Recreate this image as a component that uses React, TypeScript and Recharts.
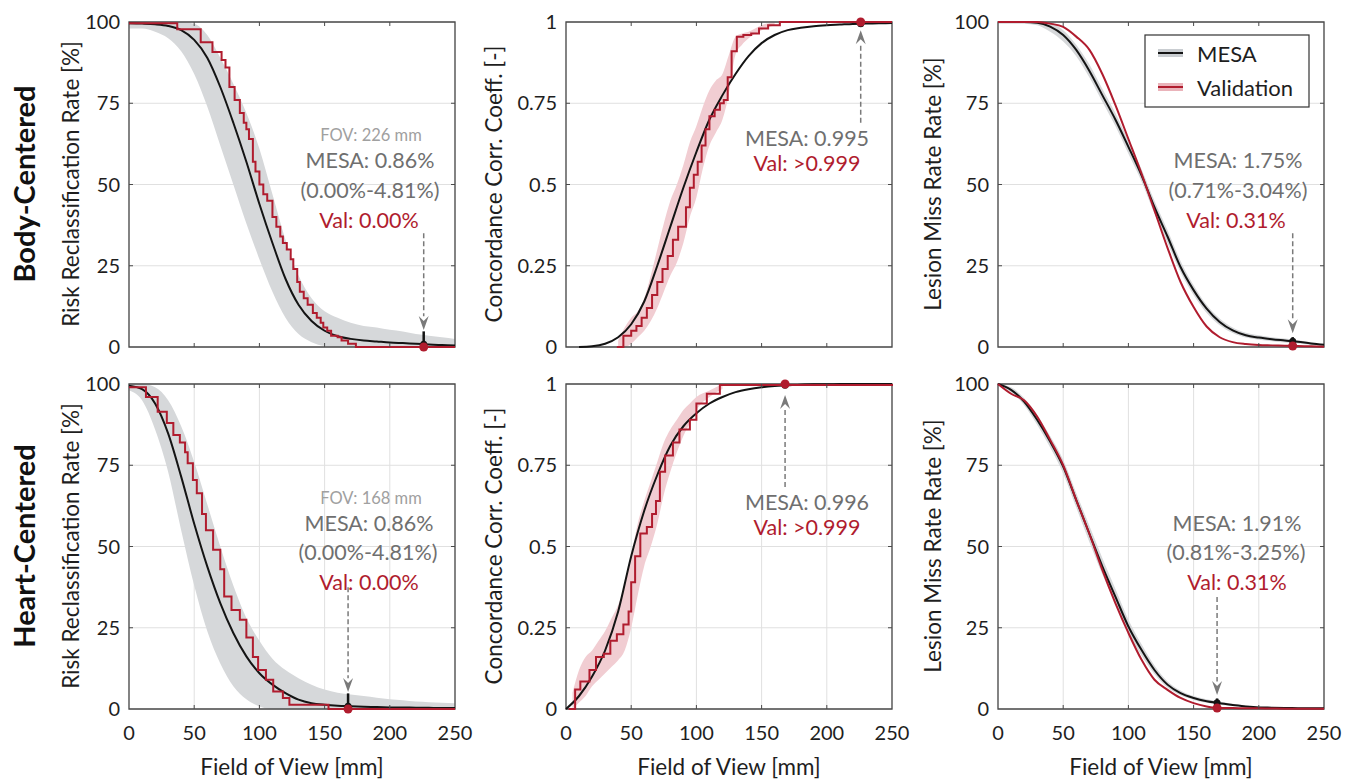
import React from 'react';
import {
  ComposedChart, Line, Area, XAxis, YAxis, CartesianGrid,
  ReferenceLine, ReferenceDot, ReferenceArea,
} from 'recharts';

// ---------- shared axes ----------
const FOV = [0, 10, 20, 30, 40, 50, 60, 70, 80, 90, 100, 110, 120, 130, 140, 150, 160, 170, 180, 190, 200, 210, 220, 230, 240, 250];
const X_TICKS = [0, 50, 100, 150, 200, 250];
const PCT_TICKS = [0, 25, 50, 75, 100];
const CCC_TICKS = [0, 0.25, 0.5, 0.75, 1];

// ---------- Panel 1: Body-centered, risk reclassification ----------
const P1_MESA = [99.6, 99.5, 99.3, 98.8, 97.5, 94.5, 89, 80, 69, 57, 44, 32, 21, 13, 8, 5, 3.3, 2.5, 2, 1.7, 1.4, 1.2, 1.0, 0.8, 0.6, 0.5];
const P1_LO = [98, 98, 97, 95, 91, 84, 74, 62, 50, 38, 27, 17, 9, 4, 1.5, 0.3, 0, 0, 0, 0, 0, 0, 0, 0, 0, 0];
const P1_HI = [100, 100, 100, 100, 100, 99.5, 96, 89, 81, 72, 61, 47, 33, 22, 15, 11, 9, 7.5, 6.5, 6, 5.3, 4.8, 4, 3.5, 3, 2.5];
const P1_VAL_X = [0, 37, 55, 64, 71, 74, 77, 81, 85, 88, 90, 92, 95, 97, 100, 103, 106, 110, 113, 116, 118, 121, 124, 126, 129, 131, 134, 137, 141, 144, 147, 149, 152, 155, 160, 163, 168, 174, 250];
const P1_VAL_Y = [99.6, 97.8, 93.8, 90.8, 88.3, 86, 80, 76, 72, 69, 67, 64, 57, 54, 50, 47, 45, 40, 37, 34, 32, 30, 27, 24, 20, 17, 15, 13, 10.5, 9, 7.5, 6, 5, 3.5, 3, 2, 1, 0, 0];

// ---------- Panel 2: Body-centered, concordance ----------
const P2_MESA = [null, 0.0, 0.002, 0.01, 0.03, 0.07, 0.14, 0.25, 0.37, 0.49, 0.6, 0.7, 0.775, 0.84, 0.895, 0.935, 0.96, 0.975, 0.982, 0.987, 0.99, 0.992, 0.994, 0.995, 0.996, 0.997];
const P2_VAL_X = [39, 44, 50, 54, 58, 62, 66, 70, 74, 78, 82, 86, 92, 95, 98, 101, 104, 107, 110, 114, 118, 121, 124, 127, 131, 136, 142, 148, 155, 164, 250];
const P2_VAL_Y = [0, 0.035, 0.05, 0.065, 0.09, 0.12, 0.16, 0.2, 0.24, 0.28, 0.33, 0.37, 0.43, 0.49, 0.53, 0.57, 0.62, 0.67, 0.71, 0.73, 0.75, 0.76, 0.83, 0.91, 0.955, 0.96, 0.965, 0.98, 0.99, 1.0, 1.0];
const P2_VB_X = [40, 45, 50, 55, 60, 65, 70, 75, 80, 85, 90, 95, 100, 105, 110, 115, 120, 125, 130, 135, 140, 150, 160];
const P2_VB_LO = [0, 0, 0.01, 0.03, 0.05, 0.08, 0.12, 0.17, 0.22, 0.26, 0.32, 0.4, 0.46, 0.55, 0.62, 0.66, 0.7, 0.78, 0.9, 0.93, 0.95, 0.975, 0.99];
const P2_VB_HI = [0.02, 0.06, 0.09, 0.11, 0.15, 0.22, 0.3, 0.38, 0.45, 0.5, 0.56, 0.63, 0.68, 0.74, 0.79, 0.82, 0.84, 0.9, 0.955, 0.965, 0.97, 0.99, 1.0];

// ---------- Panel 3: Body-centered, lesion miss rate ----------
const P3_MESA = [100, 100, 100, 99.8, 98.6, 96, 91.4, 85, 77.5, 70, 61.6, 52.9, 43, 34, 24.6, 17.5, 11.8, 7.7, 5.1, 3.6, 2.9, 2.4, 2.0, 1.6, 1.1, 0.7];
const P3_LO = [99.5, 99.5, 99.5, 99, 97, 94, 89.5, 83, 75.5, 68, 59.5, 51, 41, 32, 23, 16, 10.5, 6.7, 4.3, 2.9, 2.2, 1.8, 1.4, 1.1, 0.7, 0.4];
const P3_HI = [100, 100, 100, 100, 99.8, 97.5, 93, 87, 79.5, 72, 63.5, 54.8, 45, 36, 26.5, 19, 13, 8.8, 6, 4.4, 3.6, 3, 2.6, 2.1, 1.5, 1];
const P3_VAL = [100, 100, 100, 100, 99.5, 98.5, 95.5, 91.5, 84, 74.5, 64, 53.4, 42, 30.5, 20, 12.3, 6.3, 3, 1.5, 0.9, 0.6, 0.5, 0.4, 0.3, 0.2, 0.1];

// ---------- Panel 4: Heart-centered, risk reclassification ----------
const P4_MESA = [99.5, 98.4, 94, 84.8, 71.5, 57, 43.9, 32.6, 23.4, 16.2, 11, 7.5, 4.9, 2.9, 1.8, 1.3, 1.0, 0.85, 0.7, 0.6, 0.5, 0.45, 0.4, 0.35, 0.3, 0.3];
const P4_LO = [98, 95, 86, 73, 55, 38, 24, 14, 7, 3, 0.8, 0, 0, 0, 0, 0, 0, 0, 0, 0, 0, 0, 0, 0, 0, 0];
const P4_HI = [100, 100, 99, 95, 87, 76, 63, 50, 38, 28, 21, 15.5, 12, 9.5, 7.5, 6, 5, 4.5, 4, 3.5, 3, 2.7, 2.3, 2.1, 1.9, 1.8];
const P4_VAL_X = [0, 13, 22, 29, 34, 39, 43, 45, 49, 52, 56, 59, 64.5, 70, 73, 78.6, 85, 90, 95, 99, 105, 110.6, 118, 123, 153, 250];
const P4_VAL_Y = [99, 96, 91.5, 88, 84.3, 82, 79, 75.6, 70.5, 66.4, 60, 55, 49, 43, 34.6, 30.5, 27.5, 22, 16, 12, 9, 5.4, 3.4, 1.3, 0, 0];

// ---------- Panel 5: Heart-centered, concordance ----------
const P5_MESA = [0, 0.04, 0.1, 0.18, 0.3, 0.47, 0.61, 0.72, 0.81, 0.87, 0.91, 0.94, 0.96, 0.975, 0.984, 0.99, 0.994, 0.996, 0.998, 0.999, 0.999, 1, 1, 1, 1, 1];
const P5_VAL_X = [2, 7, 11, 18, 23, 29, 34, 39, 44, 48, 50, 53, 57, 62, 66, 69, 72, 76, 82, 87, 95, 100, 108, 118, 250];
const P5_VAL_Y = [0, 0.06, 0.085, 0.12, 0.16, 0.17, 0.21, 0.23, 0.26, 0.3, 0.39, 0.47, 0.54, 0.56, 0.6, 0.64, 0.73, 0.78, 0.82, 0.86, 0.89, 0.94, 0.97, 0.997, 1];
const P5_VB_X = [5, 10, 15, 20, 25, 30, 35, 40, 45, 50, 55, 60, 65, 70, 75, 80, 85, 90, 95, 100, 110, 120];
const P5_VB_LO = [0, 0.02, 0.04, 0.07, 0.09, 0.11, 0.13, 0.15, 0.18, 0.25, 0.35, 0.44, 0.5, 0.57, 0.66, 0.73, 0.79, 0.84, 0.88, 0.92, 0.96, 0.985];
const P5_VB_HI = [0.05, 0.12, 0.16, 0.18, 0.21, 0.24, 0.28, 0.32, 0.38, 0.47, 0.57, 0.64, 0.7, 0.76, 0.82, 0.86, 0.89, 0.92, 0.94, 0.96, 0.98, 1.0];

// ---------- Panel 6: Heart-centered, lesion miss rate ----------
const P6_MESA = [100, 98.2, 94.6, 89, 82.3, 74.6, 64.3, 54, 43.9, 34.6, 25.4, 18.2, 12, 7.5, 4.9, 3.4, 2.4, 1.8, 1.2, 0.8, 0.5, 0.4, 0.3, 0.25, 0.2, 0.2];
const P6_LO = [99.5, 97.5, 93.5, 87.5, 80.5, 72.5, 62, 51.5, 41.5, 32.5, 23.5, 16.5, 10.8, 6.6, 4.2, 2.8, 1.9, 1.3, 0.9, 0.6, 0.35, 0.25, 0.2, 0.15, 0.1, 0.1];
const P6_HI = [100, 99, 95.7, 90.5, 84, 76.7, 66.5, 56.5, 46.5, 37, 27.5, 20, 13.4, 8.5, 5.7, 4, 3, 2.3, 1.6, 1.1, 0.7, 0.55, 0.45, 0.35, 0.3, 0.3];
const P6_VAL = [100, 97, 95, 90, 82.8, 75, 64.3, 54, 42.8, 32.6, 23.4, 15.2, 9, 5.9, 3.4, 1.8, 0.8, 0.3, 0.28, 0.25, 0.2, 0.15, 0.1, 0.1, 0.1, 0.1];

// ---------- annotation values ----------
const BODY_FOV = 226;
const HEART_FOV = 168;

// ---------- styles ----------
const FONT = "Lato, 'Noto Sans', sans-serif";
const RED = '#b01c2e';
const BLACK = '#141414';
const GRAY_BAND = '#d6d8da';
const PINK_BAND = '#f1cdd2';
const ANN_GRAY = '#6f6f6f';
const FOV_GRAY = '#a0a0a0';
const ARROW_GRAY = '#7a7a7a';
const BOX = '#4a4a4a';

const PLOT_W = 326;
const PLOT_H = 325;
const YAXIS_W = 70;
const M_TOP = 20;
const M_RIGHT = 22;
const XAXIS_H = 50;
const TICK_LEN_PX = 4;

const rows = (xs: number[], ys: (number | null)[]) => xs.map((x, i) => ({ x, y: ys[i] }));
const bandRows = (xs: number[], lo: number[], hi: number[]) => xs.map((x, i) => ({ x, band: [lo[i], hi[i]] }));

const arrowDown = (props: any) => {
  const { cx, cy } = props;
  return <path d={`M${cx},${cy} L${cx - 5},${cy - 14} L${cx},${cy - 9} L${cx + 5},${cy - 14} Z`} fill={ARROW_GRAY} />;
};
const arrowUp = (props: any) => {
  const { cx, cy } = props;
  return <path d={`M${cx},${cy} L${cx - 5},${cy + 14} L${cx},${cy + 9} L${cx + 5},${cy + 14} Z`} fill={ARROW_GRAY} />;
};

type PanelCfg = {
  left: number; top: number; yMax: number; yTicks: number[];
  mesa: any[]; mesaBand?: any[];
  val: any[]; valType: 'stepAfter' | 'monotone'; valBand?: any[];
  showX: boolean;
  fov: number; arrowFrom: number; arrowBase: number; arrowTip: number; arrowDir: 'down' | 'up';
  err?: [number, number]; mesaDot?: number; valDot: number;
};

const PANELS: PanelCfg[] = [
  {
    left: 129, top: 22, yMax: 100, yTicks: PCT_TICKS,
    mesa: rows(FOV, P1_MESA), mesaBand: bandRows(FOV, P1_LO, P1_HI),
    val: rows(P1_VAL_X, P1_VAL_Y), valType: 'stepAfter', showX: false,
    fov: BODY_FOV, arrowFrom: 35, arrowBase: 9.5, arrowTip: 5.2, arrowDir: 'down',
    err: [0, 4.81], mesaDot: 0.86, valDot: 0,
  },
  {
    left: 566, top: 22, yMax: 1, yTicks: CCC_TICKS,
    mesa: rows(FOV, P2_MESA),
    val: rows(P2_VAL_X, P2_VAL_Y), valType: 'stepAfter', valBand: bandRows(P2_VB_X, P2_VB_LO, P2_VB_HI), showX: false,
    fov: BODY_FOV, arrowFrom: 0.69, arrowBase: 0.935, arrowTip: 0.975, arrowDir: 'up',
    mesaDot: 0.995, valDot: 1,
  },
  {
    left: 998, top: 22, yMax: 100, yTicks: PCT_TICKS,
    mesa: rows(FOV, P3_MESA), mesaBand: bandRows(FOV, P3_LO, P3_HI),
    val: rows(FOV, P3_VAL), valType: 'monotone', showX: false,
    fov: BODY_FOV, arrowFrom: 35, arrowBase: 8.5, arrowTip: 4.2, arrowDir: 'down',
    err: [0.71, 3.04], mesaDot: 1.75, valDot: 0.31,
  },
  {
    left: 129, top: 384, yMax: 100, yTicks: PCT_TICKS,
    mesa: rows(FOV, P4_MESA), mesaBand: bandRows(FOV, P4_LO, P4_HI),
    val: rows(P4_VAL_X, P4_VAL_Y), valType: 'stepAfter', showX: true,
    fov: HEART_FOV, arrowFrom: 37.5, arrowBase: 9.5, arrowTip: 5.2, arrowDir: 'down',
    err: [0, 4.81], mesaDot: 0.86, valDot: 0,
  },
  {
    left: 566, top: 384, yMax: 1, yTicks: CCC_TICKS,
    mesa: rows(FOV, P5_MESA),
    val: rows(P5_VAL_X, P5_VAL_Y), valType: 'stepAfter', valBand: bandRows(P5_VB_X, P5_VB_LO, P5_VB_HI), showX: true,
    fov: HEART_FOV, arrowFrom: 0.683, arrowBase: 0.925, arrowTip: 0.966, arrowDir: 'up',
    mesaDot: 0.996, valDot: 1,
  },
  {
    left: 998, top: 384, yMax: 100, yTicks: PCT_TICKS,
    mesa: rows(FOV, P6_MESA), mesaBand: bandRows(FOV, P6_LO, P6_HI),
    val: rows(FOV, P6_VAL), valType: 'monotone', showX: true,
    fov: HEART_FOV, arrowFrom: 34.5, arrowBase: 8.5, arrowTip: 4.3, arrowDir: 'down',
    err: [0.81, 3.25], mesaDot: 1.91, valDot: 0.31,
  },
];

const tickStyle = { fontSize: 20, fill: '#1e1e1e', fontFamily: FONT };

function Panel({ p }: { p: PanelCfg }) {
  const w = YAXIS_W + PLOT_W + M_RIGHT;
  const h = M_TOP + PLOT_H + XAXIS_H;
  const dy = (p.yMax * TICK_LEN_PX) / PLOT_H;
  const dx = (250 * TICK_LEN_PX) / PLOT_W;
  const innerX = X_TICKS.slice(1, -1);
  const innerY = p.yTicks.slice(1, -1);
  return (
    <div style={{ position: 'absolute', left: p.left - YAXIS_W, top: p.top - M_TOP }}>
      <ComposedChart width={w} height={h} margin={{ top: M_TOP, right: M_RIGHT, left: 0, bottom: 0 }}>
        <CartesianGrid stroke="#e0e0e0" strokeWidth={1} />
        <XAxis
          type="number" dataKey="x" domain={[0, 250]} ticks={X_TICKS}
          tick={p.showX ? tickStyle : false} tickSize={0} tickMargin={17}
          axisLine={false} height={XAXIS_H} interval={0}
        />
        <YAxis
          type="number" domain={[0, p.yMax]} ticks={p.yTicks} tick={tickStyle}
          tickSize={0} tickMargin={9} axisLine={false} width={YAXIS_W} interval={0}
        />
        {p.mesaBand && (
          <Area data={p.mesaBand} dataKey="band" type="monotone" stroke="none" fill={GRAY_BAND} fillOpacity={1} isAnimationActive={false} />
        )}
        {p.valBand && (
          <Area data={p.valBand} dataKey="band" type="monotone" stroke="none" fill={PINK_BAND} fillOpacity={1} isAnimationActive={false} />
        )}
        <Line data={p.mesa} dataKey="y" type="monotone" stroke={BLACK} strokeWidth={2} dot={false} isAnimationActive={false} />
        <Line data={p.val} dataKey="y" type={p.valType} stroke={RED} strokeWidth={2} dot={false} isAnimationActive={false} />
        <ReferenceArea x1={0} x2={250} y1={0} y2={p.yMax} fill="none" stroke={BOX} strokeWidth={1.3} />
        {innerX.map((t) => (
          <ReferenceLine key={`xb${t}`} segment={[{ x: t, y: 0 }, { x: t, y: dy }]} stroke={BOX} strokeWidth={1} />
        ))}
        {innerX.map((t) => (
          <ReferenceLine key={`xt${t}`} segment={[{ x: t, y: p.yMax }, { x: t, y: p.yMax - dy }]} stroke={BOX} strokeWidth={1} />
        ))}
        {innerY.map((t) => (
          <ReferenceLine key={`yl${t}`} segment={[{ x: 0, y: t }, { x: dx, y: t }]} stroke={BOX} strokeWidth={1} />
        ))}
        {innerY.map((t) => (
          <ReferenceLine key={`yr${t}`} segment={[{ x: 250, y: t }, { x: 250 - dx, y: t }]} stroke={BOX} strokeWidth={1} />
        ))}
        <ReferenceLine
          segment={[{ x: p.fov, y: p.arrowFrom }, { x: p.fov, y: p.arrowBase }]}
          stroke={ARROW_GRAY} strokeWidth={1.5} strokeDasharray="5 3"
        />
        <ReferenceDot x={p.fov} y={p.arrowTip} r={1} shape={p.arrowDir === 'down' ? arrowDown : arrowUp} />
        {p.err && (
          <ReferenceLine segment={[{ x: p.fov, y: p.err[0] }, { x: p.fov, y: p.err[1] }]} stroke={BLACK} strokeWidth={2.5} />
        )}
        {p.mesaDot !== undefined && (
          <ReferenceDot x={p.fov} y={p.mesaDot} r={3.5} fill={BLACK} stroke="none" />
        )}
        <ReferenceDot x={p.fov} y={p.valDot} r={4.5} fill={RED} stroke="none" />
      </ComposedChart>
    </div>
  );
}

const ROW_LABELS = [
  { text: 'Body-Centered', y: 184 },
  { text: 'Heart-Centered', y: 546 },
];
const Y_TITLES = ['Risk Reclassification Rate [%]', 'Concordance Corr. Coeff. [-]', 'Lesion Miss Rate Rate [%]'];
const Y_TITLE_X = [70, 493, 932];
const ROW_CENTER = [184, 546];
const X_TITLE_X = [292, 729, 1161];

const ANN_SIZE = 21.5;
const ANNOTATIONS = [
  { x: 371, y: 135, text: 'FOV: 226 mm', color: FOV_GRAY, size: 16.5 },
  { x: 370, y: 160, text: 'MESA: 0.86%', color: ANN_GRAY, size: ANN_SIZE },
  { x: 370, y: 190, text: '(0.00%-4.81%)', color: ANN_GRAY, size: ANN_SIZE },
  { x: 369, y: 220, text: 'Val: 0.00%', color: RED, size: ANN_SIZE },
  { x: 807, y: 138, text: 'MESA: 0.995', color: ANN_GRAY, size: ANN_SIZE },
  { x: 807, y: 163, text: 'Val: >0.999', color: RED, size: ANN_SIZE },
  { x: 1238, y: 160, text: 'MESA: 1.75%', color: ANN_GRAY, size: ANN_SIZE },
  { x: 1238, y: 190, text: '(0.71%-3.04%)', color: ANN_GRAY, size: ANN_SIZE },
  { x: 1236, y: 220, text: 'Val: 0.31%', color: RED, size: ANN_SIZE },
  { x: 371, y: 498, text: 'FOV: 168 mm', color: FOV_GRAY, size: 16.5 },
  { x: 369, y: 523, text: 'MESA: 0.86%', color: ANN_GRAY, size: ANN_SIZE },
  { x: 368, y: 552, text: '(0.00%-4.81%)', color: ANN_GRAY, size: ANN_SIZE },
  { x: 369, y: 582, text: 'Val: 0.00%', color: RED, size: ANN_SIZE },
  { x: 807, y: 502, text: 'MESA: 0.996', color: ANN_GRAY, size: ANN_SIZE },
  { x: 807, y: 527, text: 'Val: >0.999', color: RED, size: ANN_SIZE },
  { x: 1237, y: 523, text: 'MESA: 1.91%', color: ANN_GRAY, size: ANN_SIZE },
  { x: 1236, y: 552, text: '(0.81%-3.25%)', color: ANN_GRAY, size: ANN_SIZE },
  { x: 1237, y: 582, text: 'Val: 0.31%', color: RED, size: ANN_SIZE },
];

const LEGEND_ITEMS = [
  { label: 'MESA', line: BLACK, band: '#c9cdd1', y: 53 },
  { label: 'Validation', line: RED, band: '#eab3ba', y: 87 },
];

export default function App() {
  return (
    <div style={{ position: 'absolute', left: 0, top: 0, width: 1359, height: 781, background: '#fff', fontFamily: FONT }}>
      {PANELS.map((p, i) => <Panel key={i} p={p} />)}
      <svg width={1359} height={781} style={{ position: 'absolute', left: 0, top: 0, pointerEvents: 'none' }}>
        {ROW_LABELS.map((r, i) => (
          <text key={i} x={23} y={r.y} transform={`rotate(-90 23 ${r.y})`} textAnchor="middle" dominantBaseline="central"
            fontFamily={FONT} fontWeight={700} fontSize={29} fill="#111">{r.text}</text>
        ))}
        {ROW_CENTER.map((cy, ri) => Y_TITLES.map((t, ci) => (
          <text key={`${ri}-${ci}`} x={Y_TITLE_X[ci]} y={cy} transform={`rotate(-90 ${Y_TITLE_X[ci]} ${cy})`}
            textAnchor="middle" dominantBaseline="central" fontFamily={FONT} fontSize={22.5} fill="#1e1e1e">{t}</text>
        )))}
        {X_TITLE_X.map((x, i) => (
          <text key={i} x={x} y={766} textAnchor="middle" dominantBaseline="central" fontFamily={FONT} fontSize={22.5} fill="#1e1e1e">Field of View [mm]</text>
        ))}
        {ANNOTATIONS.map((a, i) => (
          <text key={i} x={a.x} y={a.y} textAnchor="middle" dominantBaseline="central" fontFamily={FONT} fontSize={a.size} fill={a.color}>{a.text}</text>
        ))}
        <rect x={1145} y={35} width={164} height={72} fill="#fff" stroke="#333" strokeWidth={1.2} />
        {LEGEND_ITEMS.map((l, i) => (
          <g key={i}>
            <line x1={1158} x2={1183} y1={l.y} y2={l.y} stroke={l.band} strokeWidth={8} />
            <line x1={1158} x2={1183} y1={l.y} y2={l.y} stroke={l.line} strokeWidth={2} />
            <text x={1197} y={l.y} dominantBaseline="central" fontFamily={FONT} fontSize={22} fill="#1e1e1e">{l.label}</text>
          </g>
        ))}
      </svg>
    </div>
  );
}
